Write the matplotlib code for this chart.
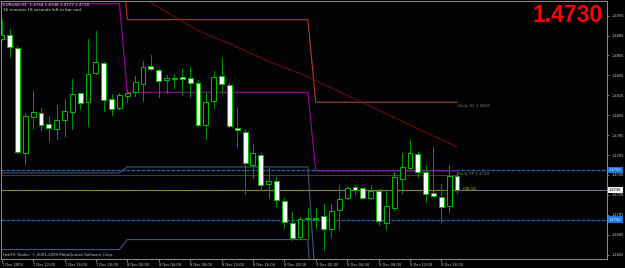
import matplotlib
matplotlib.use('Agg')
import matplotlib.pyplot as plt
import matplotlib.transforms as mtransforms
from matplotlib.patches import Rectangle

# ---------------- data (EURUSD H1, 7 Dec 2009 08:00 .. 9 Dec 2009 18:00) ----------------
opens = [1.4882, 1.4886, 1.4873, 1.4767, 1.4803, 1.4807, 1.4796, 1.4791, 1.4800, 1.4808,
         1.4827, 1.4818, 1.4847, 1.4857, 1.4821, 1.4812, 1.4824, 1.4828, 1.4836, 1.4854,
         1.4850, 1.4840, 1.4841, 1.4843, 1.4842, 1.4837, 1.4795, 1.4819, 1.4844, 1.4835,
         1.4792, 1.4788, 1.4755, 1.4765, 1.4736, 1.4739, 1.4719, 1.4697, 1.4683, 1.4701,
         1.4701, 1.4704, 1.4691, 1.4710, 1.4722, 1.4733, 1.4732, 1.4722, 1.4729, 1.4697,
         1.4712, 1.4741, 1.4752, 1.4766, 1.4748, 1.4727, 1.4723, 1.4714, 1.4744]
highs = [1.4902, 1.4892, 1.4875, 1.4807, 1.4829, 1.4812, 1.4804, 1.4815, 1.4821, 1.4841,
         1.4827, 1.4882, 1.4890, 1.4858, 1.4826, 1.4827, 1.4830, 1.4844, 1.4859, 1.4866,
         1.4851, 1.4845, 1.4846, 1.4851, 1.4853, 1.4840, 1.4827, 1.4849, 1.4862, 1.4837,
         1.4812, 1.4791, 1.4776, 1.4767, 1.4752, 1.4743, 1.4722, 1.4708, 1.4703, 1.4712,
         1.4712, 1.4716, 1.4716, 1.4735, 1.4734, 1.4735, 1.4733, 1.4735, 1.4731, 1.4729,
         1.4748, 1.4767, 1.4780, 1.4768, 1.4755, 1.4773, 1.4736, 1.4755, 1.4748]
lows = [1.4881, 1.4863, 1.4767, 1.4756, 1.4792, 1.4790, 1.4779, 1.4781, 1.4784, 1.4791,
        1.4811, 1.4794, 1.4846, 1.4809, 1.4805, 1.4811, 1.4818, 1.4824, 1.4819, 1.4850,
        1.4823, 1.4827, 1.4832, 1.4826, 1.4823, 1.4794, 1.4781, 1.4812, 1.4827, 1.4793,
        1.4773, 1.4726, 1.4742, 1.4730, 1.4722, 1.4713, 1.4692, 1.4680, 1.4681, 1.4682,
        1.4692, 1.4670, 1.4683, 1.4691, 1.4721, 1.4726, 1.4721, 1.4721, 1.4695, 1.4691,
        1.4710, 1.4727, 1.4751, 1.4743, 1.4718, 1.4723, 1.4698, 1.4708, 1.4727]
closes = [1.4886, 1.4874, 1.4768, 1.4804, 1.4808, 1.4795, 1.4792, 1.4800, 1.4809, 1.4826,
          1.4817, 1.4846, 1.4858, 1.4820, 1.4811, 1.4825, 1.4827, 1.4838, 1.4853, 1.4851,
          1.4839, 1.4842, 1.4842, 1.4841, 1.4837, 1.4795, 1.4818, 1.4843, 1.4836, 1.4794,
          1.4790, 1.4757, 1.4767, 1.4735, 1.4739, 1.4720, 1.4698, 1.4682, 1.4701, 1.4702,
          1.4702, 1.4691, 1.4709, 1.4721, 1.4732, 1.4730, 1.4722, 1.4729, 1.4699, 1.4714,
          1.4743, 1.4753, 1.4767, 1.4748, 1.4726, 1.4724, 1.4713, 1.4744, 1.4730]

# daily pivot levels (7 Dec, 8 Dec, 9 Dec) and the bar at which each day starts
day_start_bars = [0, 16, 40]
pivot_pp = [1.4917, 1.4828, 1.4749]
pivot_r1 = [1.4994, 1.4901, 1.4818]
pivot_s1 = [1.4747, 1.4753, 1.4632]
pivot_s2 = [1.4670, 1.4680, 1.4563]

# long moving average (read at a few bars)
ma_bars = [14, 18, 22, 25, 29, 34, 38, 44, 51, 58]
ma_vals = [1.4942, 1.4923, 1.4904, 1.4890, 1.4877, 1.4859, 1.4847, 1.4825, 1.4799, 1.4773]

hline_blue = [1.4750, 1.4700]
hline_gray = 1.4745
bid_price = 1.4730

x_tick_bars = [0, 4, 8, 12, 16, 20, 24, 28, 32, 36, 40, 44, 48, 52, 56]
x_tick_labels = ['7 Dec 2009', '7 Dec 12:00', '7 Dec 16:00', '7 Dec 20:00',
                 '8 Dec 00:00', '8 Dec 04:00', '8 Dec 08:00', '8 Dec 12:00',
                 '8 Dec 16:00', '8 Dec 20:00', '9 Dec 00:00', '9 Dec 04:00',
                 '9 Dec 08:00', '9 Dec 12:00', '9 Dec 16:00']
y_ticks = [1.4665, 1.4685, 1.4705, 1.4725, 1.4745, 1.4765, 1.4785, 1.4805,
           1.4825, 1.4845, 1.4865, 1.4885, 1.4905]

# ---------------- drawing ----------------
W, H = 625, 268
fig = plt.figure(figsize=(W / 100, H / 100), dpi=100)
fig.patch.set_facecolor('black')
ax = fig.add_axes([1 / W, 9 / H, 606 / W, 258 / H])
ax.set_facecolor('#020204')
ax.set_xlim(-0.09, 77.1)
ax.set_ylim(1.466048, 1.491977)

n = len(opens)
bars = list(range(n))
LW = 0.75

# horizontal objects
ax.axhline(bid_price, color='#6a7888', lw=LW, zorder=1)
for lv in hline_blue:
    ax.axhline(lv, color='#1f66b8', lw=0.9, ls=(0, (3, 1)), zorder=2)
ax.plot([bars[0], bars[-1]], [hline_gray, hline_gray], color='#3c3c48', lw=LW, zorder=1)
ax.plot([bars[0], bars[-1]], [bid_price, bid_price], color='#8f8f10', lw=0.9,
        ls=(0, (1.2, 1)), zorder=2)


def per_bar(levels):
    out = []
    for b in bars:
        d = sum(1 for s in day_start_bars if b >= s) - 1
        out.append(levels[d])
    return out


ax.plot(bars, per_bar(pivot_s2), color='#46587e', lw=LW, zorder=2)
ax.plot(bars, per_bar(pivot_s1), color='#46587e', lw=LW, zorder=2)
ax.plot(bars, per_bar(pivot_r1), color='#b4442a', lw=LW, zorder=2)
ax.plot(bars, per_bar(pivot_pp), color='#a800a8', lw=LW, zorder=2)
ax.plot(ma_bars, ma_vals, color='#8a1010', lw=LW, ls=(0, (2, 0.6)), zorder=2)

# candles
bw = 0.62
for i in bars:
    o, h, l, c = opens[i], highs[i], lows[i], closes[i]
    ax.plot([i, i], [l, h], color='#008c00', lw=LW, zorder=3)
    lo, hi = min(o, c), max(o, c)
    if hi - lo < 0.00005:
        ax.plot([i - bw / 2, i + bw / 2], [o, o], color='#00b400', lw=LW, zorder=4)
    else:
        face = 'white' if c < o else 'black'
        ax.add_patch(Rectangle((i - bw / 2, lo), bw, hi - lo, facecolor=face,
                               edgecolor='#00b400', lw=LW, zorder=4))

# labels of indicators
ax.text(58.1, pivot_r1[2] - 0.0004, 'Daily R1 1.4818', color='#7a7a7a', fontsize=2.9,
        va='center', ha='left', zorder=5)
ax.text(58.1, pivot_pp[2] - 0.00035, 'Daily PP 1.4749', color='#7a7a7a', fontsize=2.9,
        va='center', ha='left', zorder=5)
ax.text(58.6, bid_price + 0.0001, '+38:18', color='#b8b800', fontsize=2.9,
        va='center', ha='left', zorder=5)

# axes styling
for sp in ax.spines.values():
    sp.set_color('#8a8a8a')
    sp.set_linewidth(LW)
ax.yaxis.tick_right()
ax.set_yticks(y_ticks)
ax.set_yticklabels([f'{v:.4f}' for v in y_ticks])
ax.set_xticks(x_tick_bars)
ax.set_xticklabels(x_tick_labels, ha='left')
ax.tick_params(axis='y', colors='#8a8a8a', labelcolor='#c8c8c8', labelsize=2.6,
               length=1.5, width=0.6, pad=1.5, direction='out')
ax.tick_params(axis='x', colors='#8a8a8a', labelcolor='#c8c8c8', labelsize=2.6,
               length=2, width=0.6, pad=1.0, direction='out')

# highlighted price labels on the right scale
blend = mtransforms.blended_transform_factory(ax.transAxes, ax.transData)
for lv in hline_blue:
    ax.text(1.003, lv, f'{lv:.4f}', transform=blend, fontsize=2.6, color='#e8f0ff',
            va='center', ha='left', zorder=6,
            bbox=dict(boxstyle='square,pad=0.35', fc='#1f78e0', ec='none'))
ax.text(1.003, bid_price, f'{bid_price:.4f}', transform=blend, fontsize=2.6, color='black',
        va='center', ha='left', zorder=6,
        bbox=dict(boxstyle='square,pad=0.35', fc='#f0f0f0', ec='none'))

# header texts
fig.text(3 / W, 1 - 5.3 / H, f'EURUSD,H1  {opens[-1]:.4f} {highs[-1]:.4f} {lows[-1]:.4f} {closes[-1]:.4f}',
         color='#d8d8d8', fontsize=3.0, va='center', ha='left')
fig.text(3 / W, 1 - 10.3 / H, '36 minutes 18 seconds left to bar end',
         color='#d8d8d8', fontsize=3.0, va='center', ha='left')
fig.text(533 / W, 1 - 16 / H, f'{bid_price:.4f}', color='#ff0000', fontsize=16.5,
         fontweight='bold', family='Liberation Sans', va='center', ha='left')
fig.text(3 / W, 1 - 255 / H, 'FastFX Trader, © 2001-2009 MetaQuotes Software Corp.',
         color='#c8c8c8', fontsize=2.8, va='center', ha='left')

fig.savefig('out.png', dpi=100, facecolor='black')
